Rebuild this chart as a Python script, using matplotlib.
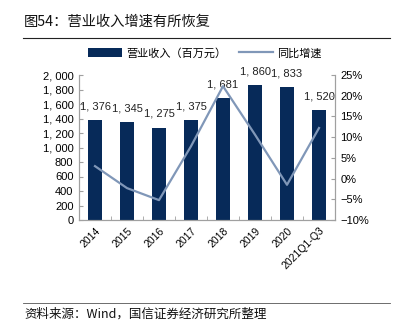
import matplotlib
matplotlib.use("Agg")
import matplotlib.pyplot as plt
from matplotlib.ticker import FixedLocator, FuncFormatter

plt.rcParams['font.family'] = ['Noto Sans CJK SC', 'DejaVu Sans']

categories = ["2014", "2015", "2016", "2017", "2018", "2019", "2020", "2021Q1-Q3"]
revenue = [1376, 1345, 1275, 1375, 1681, 1860, 1833, 1520]
growth = [3.0, -2.3, -5.2, 7.8, 22.3, 10.6, -1.5, 12.2]
left_ticks = [0, 200, 400, 600, 800, 1000, 1200, 1400, 1600, 1800, 2000]
right_ticks = [-10, -5, 0, 5, 10, 15, 20, 25]

bar_color = "#072a59"
line_color = "#8097b8"
axis_color = "#a0a0a0"
num_font = ['Liberation Sans', 'DejaVu Sans']

fig = plt.figure(figsize=(4.01, 3.29), dpi=100)
ax = fig.add_axes([79/401, 1-220/329, (335-79)/401, (220-75)/329])
ax2 = ax.twinx()

x = list(range(len(categories)))
bars = ax.bar(x, revenue, width=0.45, color=bar_color, label="营业收入（百万元）", zorder=2)
ax.set_ylim(0, 2000)
ax.set_xlim(-0.5, len(categories) - 0.5)
ax.yaxis.set_major_locator(FixedLocator(left_ticks))
ax.yaxis.set_major_formatter(FuncFormatter(lambda v, p: f"{int(v):,}".replace(",", ", ")))

for xi, v in zip(x, revenue):
    ax.text(xi, v + 120, f"{v:,}".replace(",", ", "), ha="center", va="bottom",
            fontsize=8, color="#222222", family=num_font)

line, = ax2.plot(x, growth, color=line_color, lw=1.6, label="同比增速", zorder=3)
ax2.set_ylim(-10, 25)
ax2.yaxis.set_major_locator(FixedLocator(right_ticks))
ax2.yaxis.set_major_formatter(FuncFormatter(lambda v, p: f"{int(v)}%".replace("-", "−")))

ax.set_xticks([i + 0.5 for i in x[:-1]], minor=True)
ax.set_xticks(x)
ax.set_xticklabels(categories, rotation=45, ha="right", rotation_mode="anchor", fontsize=7.5)
ax.tick_params(axis="x", which="major", length=0, pad=4)
ax.tick_params(axis="x", which="minor", direction="in", length=3, color=axis_color)
ax.tick_params(axis="y", direction="in", length=3, color=axis_color, labelsize=8, pad=4)
ax2.tick_params(axis="y", direction="in", length=3, color=axis_color, labelsize=8, pad=4)
for lab in ax.get_xticklabels() + ax.get_yticklabels() + ax2.get_yticklabels():
    lab.set_family(num_font)

for a in (ax, ax2):
    a.spines["top"].set_visible(False)
    for s in ("left", "right", "bottom"):
        a.spines[s].set_color(axis_color)
        a.spines[s].set_linewidth(0.8)
ax.set_zorder(ax2.get_zorder() - 1)
ax.patch.set_visible(False)
ax2.patch.set_visible(False)

fig.legend(handles=[bars, line], labels=["营业收入（百万元）", "同比增速"],
           loc="center", bbox_to_anchor=(205/401, 1-53/329), ncol=2, frameon=False,
           fontsize=8, handlelength=3.0, handleheight=0.8, columnspacing=1.2, handletextpad=0.4)

fig.text(24/401, 1-22/329, "图54：营业收入增速有所恢复", fontsize=10.3, va="center", ha="left", color="#111111")
fig.add_artist(plt.Line2D([23/401, 390/401], [1-38/329, 1-38/329], color="#222222", lw=0.8))
fig.add_artist(plt.Line2D([23/401, 390/401], [1-303/329, 1-303/329], color="#555555", lw=0.6))
fig.text(24/401, 1-314/329, "资料来源：Wind，国信证券经济研究所整理", fontsize=9, va="center", ha="left", color="#111111")

fig.savefig("out.png", dpi=100)
